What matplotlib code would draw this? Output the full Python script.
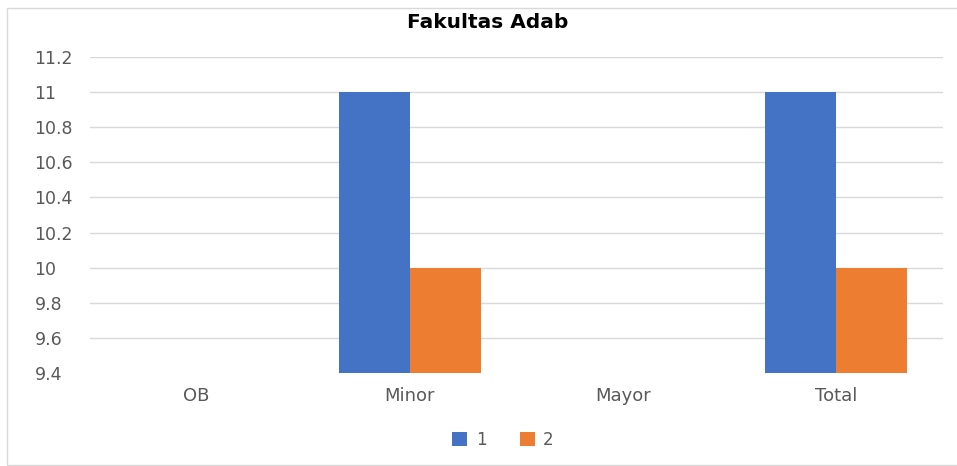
import matplotlib
matplotlib.use("Agg")
import matplotlib.pyplot as plt
from matplotlib.patches import Rectangle
import numpy as np

categories = ["OB", "Minor", "Mayor", "Total"]
series_names = ["1", "2"]
series1 = [0, 11, 0, 11]
series2 = [0, 10, 0, 10]
yticks = [9.4, 9.6, 9.8, 10, 10.2, 10.4, 10.6, 10.8, 11, 11.2]
ytick_labels = ["9.4", "9.6", "9.8", "10", "10.2", "10.4", "10.6", "10.8", "11", "11.2"]

W, H = 957, 466
fig = plt.figure(figsize=(W / 100, H / 100), dpi=100)
fig.patch.set_facecolor("white")
fig.patches.append(Rectangle((7 / W, 1 / H), (W - 6) / W, (H - 9) / H,
                             transform=fig.transFigure, fill=False,
                             edgecolor="#d9d9d9", linewidth=1))

ax = fig.add_axes([90 / W, (H - 373) / H, (943 - 90) / W, (373 - 57) / H])
x = np.arange(len(categories))
bw = 1 / 3
ax.bar(x - bw / 2, series1, bw, color="#4472c4", label=series_names[0], zorder=3)
ax.bar(x + bw / 2, series2, bw, color="#ed7d31", label=series_names[1], zorder=3)

ax.set_xlim(-0.5, len(categories) - 0.5)
ax.set_ylim(9.4, 11.2)
ax.set_yticks(yticks)
ax.set_yticklabels(ytick_labels)
ax.set_xticks(x)
ax.set_xticklabels(categories)
ax.grid(axis="y", color="#d9d9d9", linewidth=1, zorder=0)
ax.get_ygridlines()[0].set_visible(False)
for s in ax.spines.values():
    s.set_visible(False)
ax.tick_params(axis="both", length=0, colors="#595959")
ax.tick_params(axis="x", pad=10, labelsize=13)
ax.tick_params(axis="y", pad=40, labelsize=12.5)
for lbl in ax.get_yticklabels():
    lbl.set_horizontalalignment("left")

fig.text(488 / W, 1 - 22 / H, "Fakultas Adab", ha="center", va="center",
         fontsize=14.5, fontweight="bold", color="black")

leg = fig.legend(loc="center", bbox_to_anchor=(503 / W, 1 - 440 / H), ncol=2,
                 frameon=False, handlelength=0.9, handleheight=0.9,
                 handletextpad=0.5, columnspacing=2.0,
                 prop={"size": 12})
for t in leg.get_texts():
    t.set_color("#595959")

fig.savefig("out.png", dpi=100)
